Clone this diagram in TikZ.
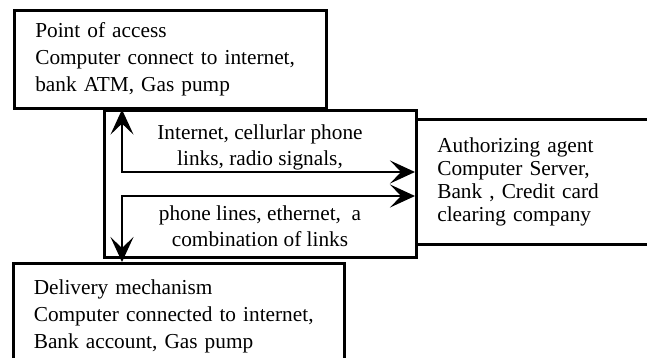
\documentclass[tikz,border=0pt]{standalone}
\usepackage{fontspec}
\setmainfont{Liberation Serif}
\usetikzlibrary{arrows.meta,positioning,calc}

\begin{document}
\begin{tikzpicture}[
  x=1pt, y=-1pt,
  box/.style={draw, rectangle, line width=2.6pt, anchor=north west, align=left,
    inner xsep=21pt, font=\fontsize{21.3}{27}\selectfont},
  lbl/.style={align=center, font=\fontsize{21.3}{26}\selectfont},
  link/.style={line width=1.8pt, {Stealth[length=25pt,width=23pt,inset=11pt]}-{Stealth[length=25pt,width=23pt,inset=11pt]}}
]
  \useasboundingbox (0,0) rectangle (647,358);
  \clip (0,0) rectangle (647,358);

  \node[box, minimum width=312pt, minimum height=98pt, text width=270pt] (access) at (13,9)
    {Point of access\\Computer connect to internet,\\bank ATM, Gas pump};
  \node[box, minimum width=312pt, minimum height=147pt] (medium) at (103,109) {};
  \node[box, minimum width=260pt, minimum height=125pt, text width=218pt,
    font=\fontsize{21.3}{23}\selectfont] (agent) at (415,118)
    {Authorizing agent\\Computer Server,\\Bank , Credit card\\clearing company};
  \node[box, minimum width=331pt, minimum height=106pt, text width=290pt, inner xsep=20pt] (delivery) at (12,262)
    {Delivery mechanism\\Computer connected to internet,\\Bank account, Gas pump};

  \node[lbl] (wireless) at (260,147) {Internet, cellurlar phone\\links, radio signals,};
  \node[lbl] (wired) at (260,226) {phone lines, ethernet,\ \ a\\combination of links};

  \coordinate (trunk) at (122,0);
  \coordinate (upper) at (0,172);
  \coordinate (lower) at (0,196);

  \draw[link] (access.south -| trunk) |- (agent.west |- upper);
  \draw[link] (delivery.north -| trunk) |- (agent.west |- lower);
\end{tikzpicture}
\end{document}
